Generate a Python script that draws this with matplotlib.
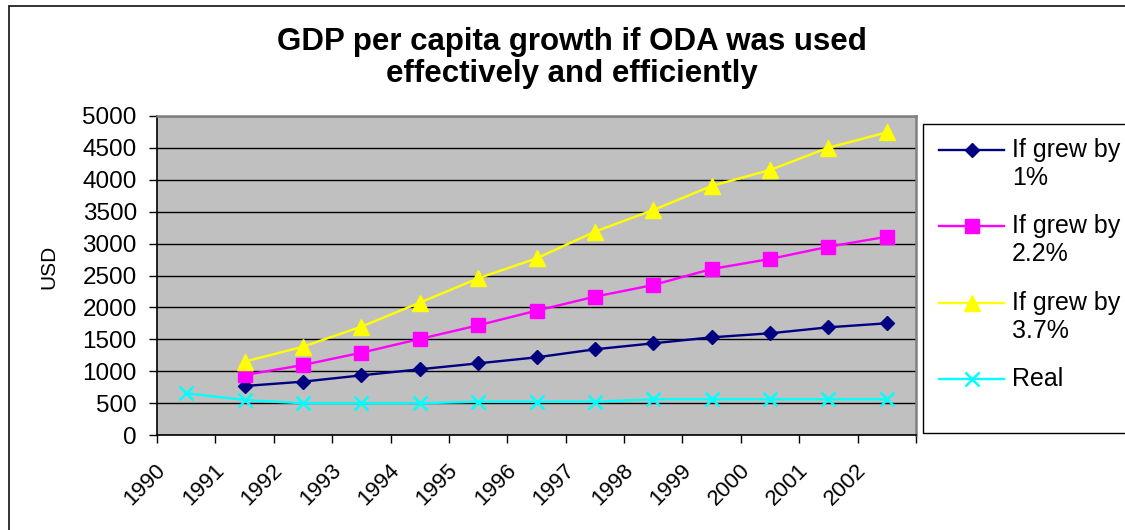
import matplotlib
matplotlib.use("Agg")
import matplotlib.pyplot as plt
import numpy as np
from matplotlib.lines import Line2D
from matplotlib.patches import Rectangle
from matplotlib.transforms import ScaledTranslation

plt.rcParams["font.family"] = ["Liberation Sans", "DejaVu Sans"]

years = ["1990", "1991", "1992", "1993", "1994", "1995", "1996",
         "1997", "1998", "1999", "2000", "2001", "2002"]
grew_1 = [np.nan, 768, 836, 935, 1030, 1123, 1217, 1343, 1437, 1531, 1594, 1688, 1751]
grew_22 = [np.nan, 940, 1097, 1290, 1505, 1719, 1949, 2168, 2351, 2602, 2759, 2951, 3108]
grew_37 = [np.nan, 1149, 1384, 1698, 2074, 2455, 2769, 3187, 3527, 3903, 4154, 4503, 4744]
real = [654, 549, 497, 497, 497, 522, 522, 522, 559, 559, 559, 559, 559]

labels = ["If grew by\n1%", "If grew by\n2.2%", "If grew by\n3.7%", "Real"]
series = [grew_1, grew_22, grew_37, real]
styles = [
    dict(color="#000080", marker="D", markersize=7.5),
    dict(color="#FF00FF", marker="s", markersize=9.5),
    dict(color="#FFFF00", marker="^", markersize=11),
    dict(color="#00FFFF", marker="x", markersize=10, markeredgewidth=1.8),
]

W, H = 1125, 530


def fx(px):
    return px / W


def fy(py):
    return 1 - py / H


fig = plt.figure(figsize=(W / 100, H / 100), dpi=100)
fig.patch.set_facecolor("white")

# outer chart frame (runs off the right and bottom edges)
fig.add_artist(Rectangle((fx(9), fy(560)), fx(1140) - fx(9), fy(6) - fy(560),
                         transform=fig.transFigure, fill=False,
                         edgecolor="#222222", linewidth=1.3))

ax = fig.add_axes([fx(157), fy(435), fx(916) - fx(157), fy(116) - fy(435)])
ax.set_facecolor("#C0C0C0")

x = np.arange(len(years))
lines = []
for vals, st in zip(series, styles):
    ln, = ax.plot(x, vals, linewidth=1.7, markeredgecolor=st["color"],
                  markerfacecolor=st["color"], clip_on=False, zorder=3, **st)
    lines.append(ln)

ax.set_xlim(-0.5, len(years) - 0.5)
ax.set_ylim(0, 5000)
ax.set_yticks(np.arange(0, 5001, 500))
ax.yaxis.grid(True, color="black", linewidth=1.0)
ax.set_axisbelow(True)

ax.set_xticks(x)
ax.set_xticklabels(years)
ax.set_xticks(np.arange(-0.5, len(years)), minor=True)
ax.tick_params(axis="x", which="major", length=0, pad=18, labelsize=16,
               labelrotation=45)
ax.tick_params(axis="x", which="minor", length=5.5, width=1.0, direction="out")
ax.tick_params(axis="y", length=5.5, width=1.0, direction="out", pad=9,
               labelsize=17.5)
shift = ScaledTranslation(-0.16, 0, fig.dpi_scale_trans)
for lab in ax.get_xticklabels():
    lab.set_horizontalalignment("right")
    lab.set_transform(lab.get_transform() + shift)

for side in ("left", "bottom"):
    ax.spines[side].set_color("black")
    ax.spines[side].set_linewidth(1.2)
for side in ("top", "right"):
    ax.spines[side].set_color("#808080")
    ax.spines[side].set_linewidth(1.8)

ax.set_ylabel("USD", fontsize=15, va="center")
ax.yaxis.set_label_coords(fx(49), fy(267), transform=fig.transFigure)

fig.text(fx(572), fy(58), "GDP per capita growth if ODA was used\neffectively and efficiently",
         ha="center", va="center", fontsize=22.5, fontweight="bold", linespacing=1.05)

# legend box, drawn by hand so the key sits on the first line of each label
fig.add_artist(Rectangle((fx(923), fy(433)), fx(1140) - fx(923), fy(124) - fy(433),
                         transform=fig.transFigure, facecolor="white",
                         edgecolor="black", linewidth=1.0))
entry_y = [150, 226, 303, 379]
for ln, lab, ey in zip(lines, labels, entry_y):
    key = Line2D([fx(939), fx(971.5), fx(1004)], [fy(ey)] * 3,
                 transform=fig.transFigure, markevery=[1])
    key.update_from(ln)
    key.set_transform(fig.transFigure)
    key.set_clip_on(False)
    fig.add_artist(key)
    for i, part in enumerate(lab.split("\n")):
        fig.text(fx(1012), fy(ey + 28 * i), part, ha="left", va="center",
                 fontsize=18)

fig.savefig("out.png", dpi=100)
